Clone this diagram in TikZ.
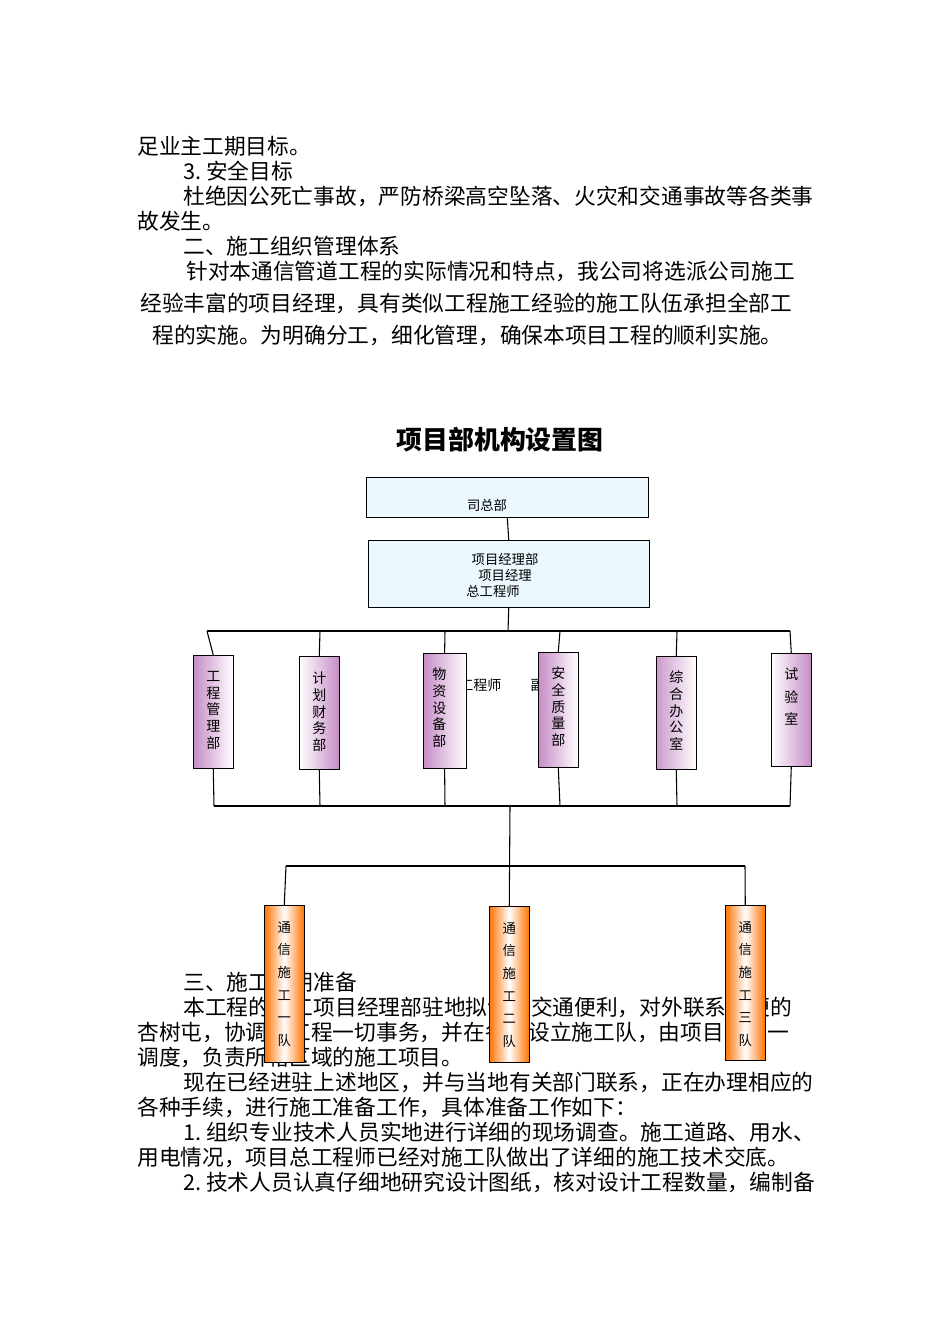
\documentclass[tikz,border=0pt]{standalone}
\usepackage{fontspec}
\setmainfont{Noto Sans CJK SC}
\begin{document}
\begin{tikzpicture}[x=0.75pt,y=-0.75pt,
  body/.style={anchor=base west,inner sep=0pt,font=\fontsize{16.3}{18}\selectfont},
  topbox/.style={draw,fill=cyan!8,anchor=north west,inner sep=0pt},
  dept/.style={draw,anchor=north west,inner sep=0pt,minimum width=30pt},
  team/.style={draw,anchor=north west,inner sep=0pt,minimum width=30pt,left color=orange!90!red,right color=orange!90!red,middle color=white},
  vt/.style={anchor=north,inner sep=0pt,align=center,font=\fontsize{10.5}{12.5}\selectfont},
  vt2/.style={anchor=north,inner sep=0pt,align=center,font=\fontsize{10}{17}\selectfont},
  ln/.style={line width=0.8pt}]
\useasboundingbox (0,0) rectangle (950,1344);
\fill[white] (0,0) rectangle (950,1344);
% upper text
\node[body] (t1) at (137,155) {足业主工期目标。};
\node[body] (t2) at (183,180) {3.\ 安全目标};
\node[body] (t3) at (183,205) {杜绝因公死亡事故，严防桥梁高空坠落、火灾和交通事故等各类事};
\node[body] (t4) at (137,230) {故发生。};
\node[body] (t5) at (183,255) {二、施工组织管理体系};
\node[body] (t6) at (186,280) {针对本通信管道工程的实际情况和特点，我公司将选派公司施工};
\node[body] (t7) at (140,311) {经验丰富的项目经理，具有类似工程施工经验的施工队伍承担全部工};
\node[body] (t8) at (152,343) {程的实施。为明确分工，细化管理，确保本项目工程的顺利实施。};
\node[font=\fontsize{19.4}{22}\selectfont\bfseries,inner sep=0pt] (title) at (500,440) {项目部机构设置图};
% stray text
\node[anchor=west,inner sep=0pt,font=\fontsize{10.5}{12}\selectfont] (stray) at (445,685) {总工程师\hspace{22pt}副};
% lower body text
\node[body] (b1) at (183,990) {三、施工前期准备};
\node[body] (b2) at (183,1015) {本工程的施工项目经理部驻地拟设在交通便利，对外联系方便的};
\node[body] (b3) at (137,1040) {杏树屯，协调本工程一切事务，并在各地设立施工队，由项目部统一};
\node[body] (b4) at (137,1065) {调度，负责所辖区域的施工项目。};
\node[body] (b5) at (183,1090) {现在已经进驻上述地区，并与当地有关部门联系，正在办理相应的};
\node[body] (b6) at (137,1115) {各种手续，进行施工准备工作，具体准备工作如下：};
\node[body] (b7) at (183,1140) {1.\ 组织专业技术人员实地进行详细的现场调查。施工道路、用水、};
\node[body] (b8) at (137,1165) {用电情况，项目总工程师已经对施工队做出了详细的施工技术交底。};
\node[body] (b9) at (183,1190) {2.\ 技术人员认真仔细地研究设计图纸，核对设计工程数量，编制备};
% top boxes
\node[topbox,minimum width=211.5pt,minimum height=30pt] (hq) at (366,477) {};
\node[inner sep=0pt,font=\fontsize{10}{12}\selectfont] (hqt) at (487,505) {司总部};
\node[topbox,minimum width=210.75pt,minimum height=50pt] (pm) at (368,540) {};
\node[inner sep=0pt,font=\fontsize{10}{12}\selectfont,align=center] (pmt) at (505,575) {项目经理部\\项目经理\\\hspace{-18pt}总工程师};
\draw[ln] (hq.south) -- (pm.north);
% bus
\coordinate (busL) at (207,631); \coordinate (busR) at (790,631);
\draw[ln] (pm.south) -- (508,631);
\draw[ln] (busL) -- (busR);
% departments
\node[dept,minimum height=85pt,left color=violet!45,right color=white] (d1) at (193,655) {};
\node[dept,minimum height=85pt,left color=white,right color=violet!45] (d2) at (299,656) {};
\node[dept,minimum height=86pt,left color=violet!45,right color=white,minimum width=32pt] (d3) at (423,653) {};
\node[dept,minimum height=86pt,left color=violet!45,right color=white] (d4) at (538,652) {};
\node[dept,minimum height=85pt,left color=violet!40,right color=white] (d5) at (656,656) {};
\node[dept,minimum height=85pt,left color=white,right color=violet!45] (d6) at (771,653) {};
\node[vt] (v1) at ([yshift=-12pt]d1.north) {工\\程\\管\\理\\部};
\node[vt] (v2) at ([yshift=-12pt]d2.north) {计\\划\\财\\务\\部};
\node[vt] (v3) at ([xshift=-4pt,yshift=-11pt]d3.north) {物\\资\\设\\备\\部};
\node[vt] (v4) at ([yshift=-11pt]d4.north) {安\\全\\质\\量\\部};
\node[vt] (v5) at ([yshift=-11pt]d5.north) {综\\合\\办\\公\\室};
\node[vt,font=\fontsize{10.5}{17}\selectfont] (v6) at ([yshift=-11pt]d6.north) {试\\验\\室};
\foreach \d/\x in {d1/207,d2/320,d3/445,d4/560,d5/677,d6/790}{
  \draw[ln] (\x,631) -- (\d.north);
}
% lower bus
\coordinate (lb) at (510,806);
\draw[ln] (214,806) -- (790,806);
\foreach \d/\x in {d1/214,d2/320,d3/445,d4/560,d5/677,d6/790}{
  \draw[ln] (\d.south) -- (\x,806);
}
\coordinate (tb) at (510,866);
\draw[ln] (286,866) -- (745,866);
% teams
\node[team,minimum height=117.75pt] (e1) at (264,905) {};
\node[team,minimum height=117pt] (e2) at (489,906) {};
\node[team,minimum height=116.25pt] (e3) at (725,905) {};
\draw[ln] (lb) -- (e2.north);
\draw[ln] (286,866) -- (e1.north);
\draw[ln] (745,866) -- (e3.north);
\node[vt2] (w1) at ([yshift=-12pt]e1.north) {通\\信\\施\\工\\一\\队};
\node[vt2] (w2) at ([yshift=-12pt]e2.north) {通\\信\\施\\工\\二\\队};
\node[vt2] (w3) at ([yshift=-12pt]e3.north) {通\\信\\施\\工\\三\\队};
\end{tikzpicture}
\end{document}
